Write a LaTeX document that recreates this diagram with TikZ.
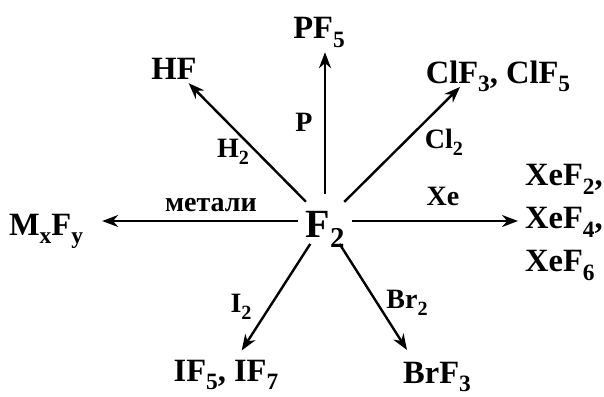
\documentclass[tikz,border=0pt]{standalone}
\usepackage{fontspec}
\setmainfont{Liberation Serif}
\usetikzlibrary{arrows.meta}
\newcommand{\ix}[1]{\raisebox{-0.27em}{\scalebox{0.72}{#1}}}

\begin{document}
\begin{tikzpicture}[x=1pt,y=-1pt,
  arr/.style={line width=2.4pt,-{Stealth[length=16pt,width=12pt]}},
  prod/.style={font=\fontsize{32.5}{43}\selectfont\bfseries,inner sep=4pt},
  lbl/.style={font=\fontsize{28}{30}\selectfont\bfseries,inner sep=0pt}]
\useasboundingbox (0,0) rectangle (604,396);
    % Mitte: F2
    \node[circle,minimum size=54pt,inner sep=0pt] (f2) at (325,221) {};
    \node[font=\fontsize{40}{42}\selectfont\bfseries,inner sep=0pt,anchor=base] (f2txt) at (325,237) {F\ix{2}};
    % Produkte:
    \node[prod,anchor=base] (pf) at (319,39) {PF\ix{5}};
    \node[prod,anchor=base] (hf) at (174,79) {HF};
    \node[prod,anchor=base] (clf) at (498,83) {ClF\ix{3}, ClF\ix{5}};
    \node[prod,align=left,anchor=north west,inner sep=0pt] (xef) at (525,164) {XeF\ix{2},\\XeF\ix{4},\\XeF\ix{6}};
    \node[prod,anchor=base] (mf) at (46,235) {M\ix{x}F\ix{y}};
    \node[prod,anchor=base] (ifs) at (226,381) {IF\ix{5}, IF\ix{7}};
    \node[prod,anchor=base] (brf) at (437,383) {BrF\ix{3}};
    \coordinate (cltip) at (460,87);
    \coordinate (brtip) at (407,350);
    % Pfeile:
    \draw[arr] (f2) -- (f2 |- pf.south);
    \draw[arr] (f2) -- (hf);
    \draw[arr] (f2) -- (cltip);
    \draw[arr,shorten >=7pt] (f2) -- (f2 -| xef.west);
    \draw[arr,shorten >=15pt] (f2) -- (f2 -| mf.east);
    \draw[arr,shorten >=6pt] (f2) -- (ifs);
    \draw[arr] (f2) -- (brtip);
    % Reagenzien:
    \node[lbl,anchor=base] (p) at (304,131) {P};
    \node[lbl,anchor=base] (h2) at (233,157) {H\ix{2}};
    \node[lbl,anchor=base] (cl2) at (444,148) {Cl\ix{2}};
    \node[lbl,anchor=base] (xe) at (443,205) {Xe};
    \node[lbl,anchor=base] (met) at (211,211) {метали};
    \node[lbl,anchor=base] (i2) at (241,312) {I\ix{2}};
    \node[lbl,anchor=base] (br2) at (407,308) {Br\ix{2}};
\end{tikzpicture}
\end{document}
